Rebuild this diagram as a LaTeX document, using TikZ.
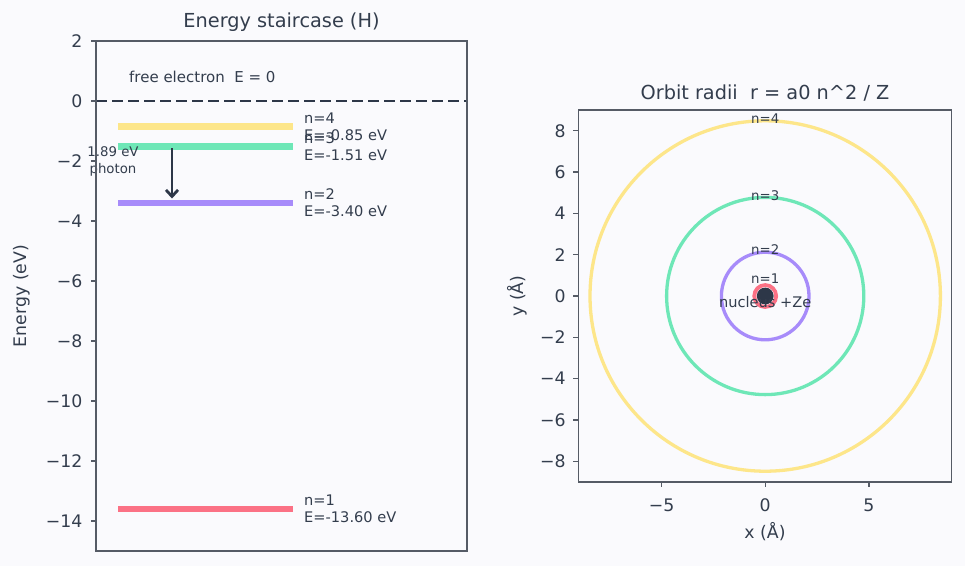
\documentclass[tikz,border=0pt]{standalone}
\usepackage{fontspec}
\setmainfont{DejaVu Sans}
\usetikzlibrary{arrows.meta}
\definecolor{bg}{HTML}{FAFAFD}
\definecolor{txt}{HTML}{333D4D}
\definecolor{spine}{HTML}{555B66}
\definecolor{lvlA}{HTML}{FB7185}
\definecolor{lvlB}{HTML}{A78BFA}
\definecolor{lvlC}{HTML}{6EE7B7}
\definecolor{lvlD}{HTML}{FDE68A}
\definecolor{dark}{HTML}{2D3748}
\begin{document}
\begin{tikzpicture}[x=1pt,y=-1pt,
  ticklbl/.style={font=\fontsize{17.3}{20}\selectfont, text=txt, inner sep=0pt},
  axlbl/.style={font=\fontsize{17.3}{20}\selectfont, text=txt, inner sep=0pt},
  ttl/.style={font=\fontsize{19.3}{23}\selectfont, text=txt, inner sep=0pt},
  tickmark/.style={draw=spine, line width=1.3pt},
  spinebox/.style={draw=spine, line width=1.4pt},
  lvlline/.style={line width=6.8pt},
  lvllbl/.style={font=\fontsize{14.6}{17}\selectfont, text=txt, align=left, anchor=west, inner sep=0pt},
  smalllbl/.style={font=\fontsize{13.3}{16.5}\selectfont, text=txt, inner sep=0pt},
  orbit/.style={line width=3.3pt}]
\fill[bg] (0,0) rectangle (965,566);
\useasboundingbox (0,0) rectangle (965,566);

% ===== Left panel =====
\node[ttl] (ttlL) at (281.5,22) {Energy staircase (H)};
\node[axlbl, rotate=90] (ylabL) at (22,296) {Energy (eV)};
\foreach \v/\lab [count=\i] in {2/2,0/0,-2/−2,-4/−4,-6/−6,-8/−8,-10/−10,-12/−12,-14/−14}{
  \pgfmathsetmacro{\yy}{101-30*\v}
  \draw[tickmark] (91,\yy) -- (96,\yy);
  \node[ticklbl, anchor=east] (lt\i) at (82.5,\yy) {\lab};
}
% dashed free-electron line
\draw[dark, line width=2.5pt, dash pattern=on 11pt off 5pt] (96,101) -- (467,101);
\node[font=\fontsize{15}{18}\selectfont, text=txt, inner sep=0pt, anchor=west] (free) at (129,77) {free electron\ \ E = 0};

% levels
\draw[lvlline, lvlD] (118,126.5) -- (293,126.5);
\draw[lvlline, lvlC] (118,146.3) -- (293,146.3);
\draw[lvlline, lvlB] (118,203) -- (293,203);
\draw[lvlline, lvlA] (118,509) -- (293,509);
\node[lvllbl] (l4) at (304,126.5) {n=4\\E=-0.85 eV};
\node[lvllbl] (l3) at (304,146.3) {n=3\\E=-1.51 eV};
\node[lvllbl] (l2) at (304,203) {n=2\\E=-3.40 eV};
\node[lvllbl] (l1) at (304,509) {n=1\\E=-13.60 eV};

% photon arrow
\coordinate (arrS) at (172,148);
\coordinate (arrE) at (172,198.5);
\draw[dark, line width=2.8pt, -{Straight Barb[length=6.5pt,width=12pt,line width=2.8pt]}] (arrS) -- (arrE);
\node[smalllbl, align=center] (photon) at (113,161.5) {1.89 eV\\photon};

\draw[spinebox] (96,41) rectangle (467,551);

% ===== Right panel =====
\node[ttl] (ttlR) at (765,93) {Orbit radii\ \ r = a0 n\^{}2 / Z};
\node[axlbl] (xlabR) at (765,532) {x (Å)};
\node[axlbl, rotate=90] (ylabR) at (517,296) {y (Å)};
\begin{scope}[shift={(765.2,296)}]
  \draw[orbit, lvlD] (0,0) circle[radius=175.2pt];
  \draw[orbit, lvlC] (0,0) circle[radius=98.6pt];
  \draw[orbit, lvlB] (0,0) circle[radius=43.8pt];
  \draw[orbit, lvlA, line width=3.8pt] (0,0) circle[radius=10.95pt];
  \fill[dark] (0,0) circle[radius=8.4pt];
  \node[smalllbl, anchor=base] (o4) at (0,-172.5) {n=4};
  \node[smalllbl, anchor=base] (o3) at (0,-95.9) {n=3};
  \node[smalllbl, anchor=base] (o2) at (0,-41.1) {n=2};
  \node[smalllbl, anchor=base] (o1) at (0,-13) {n=1};
  \node[font=\fontsize{14.6}{17}\selectfont, text=txt, inner sep=0pt] (nuc) at (0,6) {nucleus +Ze};
  \foreach \v/\lab [count=\i] in {-5/−5,0/0,5/5}{
    \draw[tickmark] (20.73*\v,186) -- (20.73*\v,191);
    \node[ticklbl, anchor=center] (xt\i) at (20.73*\v,209) {\lab};
  }
  \foreach \v/\lab [count=\i] in {8/8,6/6,4/4,2/2,0/0,-2/−2,-4/−4,-6/−6,-8/−8}{
    \draw[tickmark] (-192,-20.65*\v) -- (-187.2,-20.65*\v);
    \node[ticklbl, anchor=east] (yt\i) at (-199.5,-20.65*\v) {\lab};
  }
\end{scope}
\draw[spinebox] (578.3,110) rectangle (951.7,482);
\end{tikzpicture}
\end{document}
